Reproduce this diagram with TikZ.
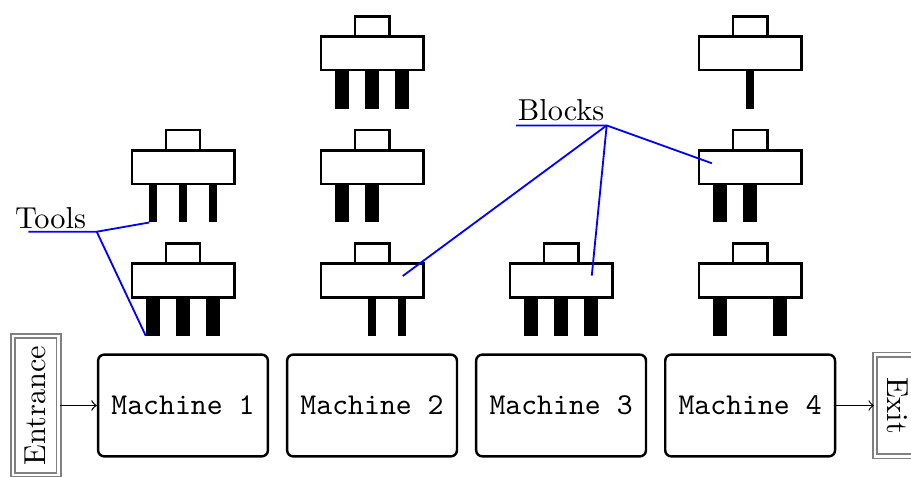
\documentclass[tikz,border=0pt]{standalone}
\usepackage{tikz}
\usetikzlibrary{positioning}

\tikzset{
  machine/.style={draw, thick, rounded corners=2pt, minimum width=1.97cm, minimum height=1.18cm, font=\ttfamily},
  gate/.style={draw=gray, double, line width=0.6pt, double distance=0.8pt, minimum width=1.18cm, minimum height=0.53cm},
  blockbody/.style={draw, thick, fill=white, minimum width=1.19cm, minimum height=0.39cm, inner sep=0pt, outer sep=0pt},
  blockcap/.style={draw, thick, fill=white, minimum width=0.4cm, minimum height=0.235cm, inner sep=0pt, outer sep=0pt},
  thinleg/.style={fill=black, minimum width=0.087cm, minimum height=0.447cm, inner sep=0pt, outer sep=0pt},
  thickleg/.style={fill=black, minimum width=0.168cm, minimum height=0.447cm, inner sep=0pt, outer sep=0pt},
  pointer/.style={blue, semithick},
}

% one block: name, position, leg style, leg offsets
\newcommand{\toolblock}[4]{%
  \node[blockbody] (#1) at (#2) {};
  \node[blockcap, above=0pt of #1] (#1cap) {};
  \foreach \lx in {#4}
    \node[#3, anchor=north] (#1leg\lx) at ([xshift=\lx*0.348cm]#1.south) {};
}

\begin{document}
\begin{tikzpicture}
  \useasboundingbox (0,0) rectangle (10.568,5.522);

  % machines
  \node[machine] (m1) at (2.123,0.818) {Machine 1};
  \node[machine] (m2) at (4.316,0.818) {Machine 2};
  \node[machine] (m3) at (6.509,0.818) {Machine 3};
  \node[machine] (m4) at (8.702,0.818) {Machine 4};
  \node[gate, rotate=90] (entrance) at (0.415,0.818) {Entrance};
  \node[gate, rotate=-90] (exit) at (10.415,0.818) {Exit};
  \draw[->] (entrance) -- (m1);
  \draw[->] (m4) -- (exit);

  % blocks with their tools
  \toolblock{m1r2}{2.123,3.583}{thinleg}{-1,0,1}
  \toolblock{m1r3}{2.123,2.268}{thickleg}{-1,0,1}
  \toolblock{m2r1}{4.316,4.903}{thickleg}{-1,0,1}
  \toolblock{m2r2}{4.316,3.583}{thickleg}{-1,0}
  \toolblock{m2r3}{4.316,2.268}{thinleg}{0,1}
  \toolblock{m3r3}{6.509,2.268}{thickleg}{-1,0,1}
  \toolblock{m4r1}{8.702,4.903}{thinleg}{0}
  \toolblock{m4r2}{8.702,3.583}{thickleg}{-1,0}
  \toolblock{m4r3}{8.702,2.268}{thickleg}{-1,1}

  % labels
  \node[anchor=base] (tools) at (0.586,2.877) {Tools};
  \coordinate (toolsend) at (0.328,2.834);
  \coordinate (toolsfork) at (1.122,2.834);
  \draw[pointer] (toolsend) -- (toolsfork) -- (m1r2leg-1.south west);
  \draw[pointer] (toolsfork) -- (m1r3leg-1.south west);

  \node[anchor=base] (blocks) at (6.509,4.122) {Blocks};
  \coordinate (blocksend) at (5.986,4.067);
  \coordinate (blocksfork) at (7.038,4.067);
  \draw[pointer] (blocksend) -- (blocksfork) -- ([shift={(-0.444,0.045)}]m4r2.center);
  \draw[pointer] (blocksfork) -- ([shift={(0.356,0.056)}]m3r3.center);
  \draw[pointer] (blocksfork) -- ([shift={(0.356,0.052)}]m2r3.center);
\end{tikzpicture}
\end{document}
